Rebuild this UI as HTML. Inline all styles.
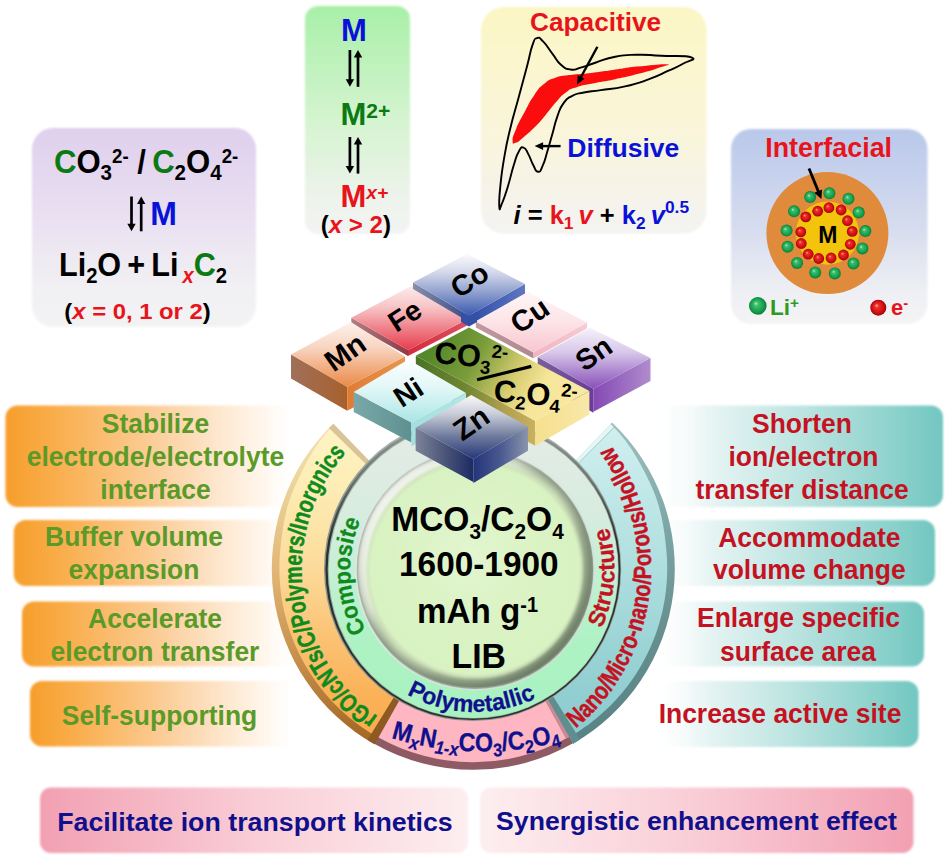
<!DOCTYPE html>
<html><head><meta charset="utf-8"><title>MCO3/C2O4 LIB anodes</title>
<style>
html,body{margin:0;padding:0;background:#fff;}
svg{display:block;}
text{font-family:"Liberation Sans", Arial, Helvetica, sans-serif;font-weight:bold;}
</style></head><body>
<svg width="952" height="865" viewBox="0 0 952 865">
<defs>
<filter id="soft" x="-5%" y="-5%" width="110%" height="110%"><feGaussianBlur stdDeviation="1.1"/></filter>
<marker id="ah" viewBox="0 0 10 10" refX="5" refY="5" markerWidth="4" markerHeight="4" orient="auto-start-reverse"><path d="M0,0 L10,5 L0,10 z" fill="#000"/></marker>
<linearGradient id="gb1" x1="0" y1="0" x2="0" y2="1"><stop offset="0" stop-color="#dfcfec"/><stop offset="0.45" stop-color="#e9e0f2"/><stop offset="0.8" stop-color="#f1f0f3"/><stop offset="1" stop-color="#f3f3f3"/></linearGradient>
<linearGradient id="gb2" x1="0" y1="0" x2="0" y2="1"><stop offset="0" stop-color="#a8f0a8"/><stop offset="0.5" stop-color="#d5f4d0"/><stop offset="0.85" stop-color="#eef3ec"/><stop offset="1" stop-color="#f3f3f3"/></linearGradient>
<linearGradient id="gb3" x1="0" y1="0" x2="0" y2="1"><stop offset="0" stop-color="#fbf6c4"/><stop offset="0.5" stop-color="#faf5d8"/><stop offset="0.85" stop-color="#f5f3ea"/><stop offset="1" stop-color="#f3f3f1"/></linearGradient>
<linearGradient id="gb4" x1="0" y1="0" x2="0" y2="1"><stop offset="0" stop-color="#b9c8ea"/><stop offset="0.5" stop-color="#d6dcef"/><stop offset="0.85" stop-color="#eff0f4"/><stop offset="1" stop-color="#f4f4f4"/></linearGradient>
<radialGradient id="gball" cx="0.5" cy="0.5" r="0.5" fx="0.38" fy="0.35"><stop offset="0" stop-color="#b8f0c8"/><stop offset="0.25" stop-color="#3cc070"/><stop offset="0.8" stop-color="#119a48"/><stop offset="1" stop-color="#0b7a3a"/></radialGradient>
<radialGradient id="rball" cx="0.5" cy="0.5" r="0.5" fx="0.38" fy="0.35"><stop offset="0" stop-color="#ffb0a0"/><stop offset="0.25" stop-color="#f03028"/><stop offset="0.8" stop-color="#c80a10"/><stop offset="1" stop-color="#98060a"/></radialGradient>
<linearGradient id="gl" x1="0" y1="0" x2="1" y2="0"><stop offset="0" stop-color="#f79e2c"/><stop offset="0.15" stop-color="#f9ac48"/><stop offset="0.45" stop-color="#fbc88c"/><stop offset="0.68" stop-color="#fde2c4"/><stop offset="0.88" stop-color="#fff6ec" stop-opacity="0.9"/><stop offset="1" stop-color="#ffffff" stop-opacity="0"/></linearGradient>
<linearGradient id="gr" x1="1" y1="0" x2="0" y2="0"><stop offset="0" stop-color="#72c6c0"/><stop offset="0.12" stop-color="#86cfc9"/><stop offset="0.5" stop-color="#bfe5e2"/><stop offset="0.8" stop-color="#e8f5f4"/><stop offset="1" stop-color="#ffffff" stop-opacity="0"/></linearGradient>
<linearGradient id="gbl" x1="0" y1="0" x2="1" y2="0"><stop offset="0" stop-color="#f2a0b2"/><stop offset="0.5" stop-color="#f9cdd6"/><stop offset="1" stop-color="#fdeef0"/></linearGradient>
<linearGradient id="gbr" x1="1" y1="0" x2="0" y2="0"><stop offset="0" stop-color="#f2a0b2"/><stop offset="0.5" stop-color="#f9cdd6"/><stop offset="1" stop-color="#fdeef0"/></linearGradient>
<linearGradient id="oe" x1="0" y1="420" x2="0" y2="770" gradientUnits="userSpaceOnUse"><stop offset="0" stop-color="#f3e3b4"/><stop offset="0.18" stop-color="#ecd49c"/><stop offset="0.42" stop-color="#e2b878"/><stop offset="0.7" stop-color="#c48c48"/><stop offset="0.88" stop-color="#a86c2a"/><stop offset="1" stop-color="#9a6024"/></linearGradient>
<linearGradient id="of" x1="0" y1="420" x2="0" y2="762" gradientUnits="userSpaceOnUse"><stop offset="0" stop-color="#fef6c6"/><stop offset="0.2" stop-color="#fdecb4"/><stop offset="0.42" stop-color="#fcdc9c"/><stop offset="0.62" stop-color="#fbc476"/><stop offset="0.8" stop-color="#fbb258"/><stop offset="1" stop-color="#faa646"/></linearGradient>
<linearGradient id="ce" x1="0" y1="420" x2="0" y2="770" gradientUnits="userSpaceOnUse"><stop offset="0" stop-color="#a0c0c0"/><stop offset="0.3" stop-color="#7ea6a6"/><stop offset="0.6" stop-color="#678f90"/><stop offset="1" stop-color="#557f82"/></linearGradient>
<linearGradient id="cf" x1="0" y1="420" x2="0" y2="762" gradientUnits="userSpaceOnUse"><stop offset="0" stop-color="#d2f0f0"/><stop offset="0.35" stop-color="#b6e2e2"/><stop offset="0.7" stop-color="#98d2d4"/><stop offset="1" stop-color="#86c8cc"/></linearGradient>
<linearGradient id="mr" x1="0" y1="420" x2="0" y2="718" gradientUnits="userSpaceOnUse"><stop offset="0" stop-color="#e6ece6"/><stop offset="0.3" stop-color="#d8ece0"/><stop offset="0.55" stop-color="#c0f0d2"/><stop offset="0.75" stop-color="#aef2c4"/><stop offset="1" stop-color="#a8f2c0"/></linearGradient>
<linearGradient id="mb" x1="0" y1="418" x2="0" y2="720" gradientUnits="userSpaceOnUse"><stop offset="0" stop-color="#98a29c"/><stop offset="0.2" stop-color="#6a746e"/><stop offset="0.4" stop-color="#2a322e"/><stop offset="1" stop-color="#2a322e"/></linearGradient>
<linearGradient id="mb0" x1="0" y1="418" x2="0" y2="720" gradientUnits="userSpaceOnUse"><stop offset="0" stop-color="#b4bcb8"/><stop offset="0.3" stop-color="#8a948e"/><stop offset="1" stop-color="#8a948e"/></linearGradient>
<radialGradient id="idb" cx="475.0" cy="569.5" r="118.4" gradientUnits="userSpaceOnUse"><stop offset="0" stop-color="#dbf3c4"/><stop offset="0.88" stop-color="#d9f2c2"/><stop offset="0.93" stop-color="#c6d8b4"/><stop offset="0.97" stop-color="#a2b296"/><stop offset="0.99" stop-color="#8e9c88"/><stop offset="1" stop-color="#a8b4a4"/></radialGradient>
<linearGradient id="bvd" x1="395" y1="489" x2="555" y2="650" gradientUnits="userSpaceOnUse"><stop offset="0" stop-color="#ffffff" stop-opacity="0.8"/><stop offset="0.3" stop-color="#ffffff" stop-opacity="0.4"/><stop offset="0.5" stop-color="#808a78" stop-opacity="0.0"/><stop offset="0.72" stop-color="#4e5e48" stop-opacity="0.32"/><stop offset="1" stop-color="#3e4e3a" stop-opacity="0.5"/></linearGradient>
<filter id="b2" x="-10%" y="-10%" width="120%" height="120%"><feGaussianBlur stdDeviation="1.5"/></filter>
<radialGradient id="idh" cx="470.0" cy="554.5" r="100" gradientUnits="userSpaceOnUse"><stop offset="0" stop-color="#e8f8d8" stop-opacity="0.6"/><stop offset="0.7" stop-color="#dff4ca" stop-opacity="0.25"/><stop offset="1" stop-color="#d9f2c2" stop-opacity="0"/></radialGradient>
<path id="pc1" d="M470.86,694.23 A124.80,124.80 0 0 1 457.42,445.95"/>
<path id="pc2" d="M478.29,708.96 A139.50,139.50 0 0 0 495.98,431.59"/>
<path id="pc3" d="M332.94,577.82 A142.30,142.30 0 0 0 616.34,585.98"/>
<path id="pc4" d="M485.50,748.20 A178.00,178.00 0 0 1 442.90,396.13"/>
<path id="pc5" d="M524.22,759.63 A207.70,207.70 0 0 0 568.69,402.64"/>
<path id="pc6" d="M321.22,706.87 A310.50,310.50 0 0 0 631.66,712.83"/>
<linearGradient id="ttFe" x1="0" y1="284.5" x2="0" y2="350" gradientUnits="userSpaceOnUse"><stop offset="0" stop-color="#fdeeee"/><stop offset="0.35" stop-color="#f7c4c6"/><stop offset="0.7" stop-color="#ee7a84"/><stop offset="1" stop-color="#e83c4c"/></linearGradient>
<linearGradient id="tlFe" x1="351.3" y1="0" x2="408" y2="0" gradientUnits="userSpaceOnUse"><stop offset="0" stop-color="#b08084"/><stop offset="1" stop-color="#8e3a44"/></linearGradient>
<linearGradient id="trFe" x1="408" y1="0" x2="470" y2="0" gradientUnits="userSpaceOnUse"><stop offset="0" stop-color="#d02c3c"/><stop offset="1" stop-color="#e05060"/></linearGradient>
<linearGradient id="ttCu" x1="0" y1="291.5" x2="0" y2="352.5" gradientUnits="userSpaceOnUse"><stop offset="0" stop-color="#fff6f7"/><stop offset="0.5" stop-color="#fde4e8"/><stop offset="1" stop-color="#f7c6cf"/></linearGradient>
<linearGradient id="tlCu" x1="475.8" y1="0" x2="533.5" y2="0" gradientUnits="userSpaceOnUse"><stop offset="0" stop-color="#c09aa0"/><stop offset="1" stop-color="#b08890"/></linearGradient>
<linearGradient id="trCu" x1="533.5" y1="0" x2="587" y2="0" gradientUnits="userSpaceOnUse"><stop offset="0" stop-color="#f0b4be"/><stop offset="1" stop-color="#f6ccd4"/></linearGradient>
<linearGradient id="ttCo" x1="0" y1="254" x2="0" y2="315.5" gradientUnits="userSpaceOnUse"><stop offset="0" stop-color="#fbfbfd"/><stop offset="0.3" stop-color="#d4d8ea"/><stop offset="0.65" stop-color="#8a9ccc"/><stop offset="1" stop-color="#3a58b0"/></linearGradient>
<linearGradient id="tlCo" x1="413" y1="0" x2="469" y2="0" gradientUnits="userSpaceOnUse"><stop offset="0" stop-color="#8690a8"/><stop offset="1" stop-color="#3a4a88"/></linearGradient>
<linearGradient id="trCo" x1="469" y1="0" x2="525" y2="0" gradientUnits="userSpaceOnUse"><stop offset="0" stop-color="#2c4aa8"/><stop offset="1" stop-color="#6078c0"/></linearGradient>
<linearGradient id="ttMn" x1="0" y1="322" x2="0" y2="386.8" gradientUnits="userSpaceOnUse"><stop offset="0" stop-color="#fdf2ec"/><stop offset="0.4" stop-color="#f8d4c0"/><stop offset="0.75" stop-color="#f0a878"/><stop offset="1" stop-color="#ea8a48"/></linearGradient>
<linearGradient id="tlMn" x1="291" y1="0" x2="347.2" y2="0" gradientUnits="userSpaceOnUse"><stop offset="0" stop-color="#a0705a"/><stop offset="1" stop-color="#a8602c"/></linearGradient>
<linearGradient id="trMn" x1="347.2" y1="0" x2="405" y2="0" gradientUnits="userSpaceOnUse"><stop offset="0" stop-color="#e07c34"/><stop offset="1" stop-color="#e8944c"/></linearGradient>
<linearGradient id="ttSn" x1="0" y1="327.7" x2="0" y2="388.7" gradientUnits="userSpaceOnUse"><stop offset="0" stop-color="#f6f2fa"/><stop offset="0.4" stop-color="#d8c8ea"/><stop offset="0.75" stop-color="#a880cc"/><stop offset="1" stop-color="#8a50b8"/></linearGradient>
<linearGradient id="tlSn" x1="537.7" y1="0" x2="593.4" y2="0" gradientUnits="userSpaceOnUse"><stop offset="0" stop-color="#78609a"/><stop offset="1" stop-color="#683c98"/></linearGradient>
<linearGradient id="trSn" x1="593.4" y1="0" x2="650.5" y2="0" gradientUnits="userSpaceOnUse"><stop offset="0" stop-color="#8448b4"/><stop offset="1" stop-color="#b08ccc"/></linearGradient>
<linearGradient id="ttC" gradientUnits="userSpaceOnUse" x1="440" y1="335" x2="565" y2="405"><stop offset="0" stop-color="#55882a"/><stop offset="0.3" stop-color="#7a9c3a"/><stop offset="0.6" stop-color="#d6cc70"/><stop offset="0.8" stop-color="#f6e69a"/><stop offset="1" stop-color="#f8e8a0"/></linearGradient>
<linearGradient id="tlC" x1="416" y1="0" x2="534.5" y2="0" gradientUnits="userSpaceOnUse"><stop offset="0" stop-color="#4a7424"/><stop offset="0.4" stop-color="#6e8430"/><stop offset="0.75" stop-color="#b0a050"/><stop offset="1" stop-color="#c8b060"/></linearGradient>
<linearGradient id="trC" x1="534.5" y1="0" x2="589" y2="0" gradientUnits="userSpaceOnUse"><stop offset="0" stop-color="#f6e08e"/><stop offset="1" stop-color="#f8e8a8"/></linearGradient>
<linearGradient id="ttNi" x1="0" y1="359.5" x2="0" y2="422.5" gradientUnits="userSpaceOnUse"><stop offset="0" stop-color="#fbfefe"/><stop offset="0.4" stop-color="#e6f8f8"/><stop offset="0.75" stop-color="#c4eeee"/><stop offset="1" stop-color="#a8e4e4"/></linearGradient>
<linearGradient id="tlNi" x1="353.7" y1="0" x2="411.4" y2="0" gradientUnits="userSpaceOnUse"><stop offset="0" stop-color="#7aa8a8"/><stop offset="1" stop-color="#5f9090"/></linearGradient>
<linearGradient id="trNi" x1="411.4" y1="0" x2="466" y2="0" gradientUnits="userSpaceOnUse"><stop offset="0" stop-color="#a4dede"/><stop offset="1" stop-color="#b4e6e6"/></linearGradient>
<linearGradient id="ttZn" x1="0" y1="395" x2="0" y2="459" gradientUnits="userSpaceOnUse"><stop offset="0" stop-color="#fafafc"/><stop offset="0.3" stop-color="#c8ccd8"/><stop offset="0.65" stop-color="#6e7a9c"/><stop offset="1" stop-color="#26367a"/></linearGradient>
<linearGradient id="tlZn" x1="415.6" y1="0" x2="473.4" y2="0" gradientUnits="userSpaceOnUse"><stop offset="0" stop-color="#7c8498"/><stop offset="0.5" stop-color="#4c5678"/><stop offset="1" stop-color="#1c2a64"/></linearGradient>
<linearGradient id="trZn" x1="473.4" y1="0" x2="528" y2="0" gradientUnits="userSpaceOnUse"><stop offset="0" stop-color="#24347a"/><stop offset="0.5" stop-color="#4a5a90"/><stop offset="1" stop-color="#8a94ac"/></linearGradient>
</defs>
<rect x="32.0" y="128.0" width="224.0" height="199.0" rx="21.0" fill="url(#gb1)" filter="url(#soft)"/>
<text transform="translate(146.10,172.50) scale(0.915,1)" font-size="34.00" fill="#000" text-anchor="middle"><tspan fill="#0b7a12">C</tspan><tspan fill="#000">O</tspan><tspan dy="7.14" font-size="22.44" fill="#000">3</tspan><tspan dy="-16.46" font-size="20.40" fill="#000">2-</tspan><tspan dy="9.32" fill="#000"> / </tspan><tspan fill="#0b7a12">C</tspan><tspan dy="7.14" font-size="22.44" fill="#000">2</tspan><tspan dy="-7.14" fill="#000">O</tspan><tspan dy="7.14" font-size="22.44" fill="#000">4</tspan><tspan dy="-16.46" font-size="20.40" fill="#000">2-</tspan></text>
<path d="M131.5,196.5 V224.8" stroke="#000" stroke-width="2.7" fill="none"/>
<path d="M131.5,231.3 l-4.2,-7.5 h8.4 z" fill="#000"/>
<path d="M141.2,231.3 V203.0" stroke="#000" stroke-width="2.7" fill="none"/>
<path d="M141.2,196.5 l-4.2,7.5 h8.4 z" fill="#000"/>
<text transform="translate(150.30,225.00) scale(0.970,1)" font-size="33.00" fill="#0a12d8" text-anchor="start">M</text>
<text transform="translate(143.00,276.00) scale(0.900,1)" font-size="34.00" fill="#000" text-anchor="middle"><tspan fill="#000">Li</tspan><tspan dy="7.14" font-size="22.44" fill="#000">2</tspan><tspan dy="-7.14" fill="#000">O + Li</tspan><tspan dy="7.14" font-size="22.44" fill="#e8141c" font-style="italic"> x</tspan><tspan dy="-7.14" fill="#0b7a12">C</tspan><tspan dy="7.14" font-size="22.44" fill="#000">2</tspan></text>
<text transform="translate(137.50,318.50) scale(1.060,1)" font-size="22.50" fill="#e8141c" text-anchor="middle"><tspan fill="#000">(</tspan><tspan fill="#e8141c" font-style="italic">x</tspan><tspan fill="#e8141c"> = 0, 1 or 2</tspan><tspan fill="#000">)</tspan></text>
<rect x="305.0" y="6.0" width="105.0" height="228.0" rx="13.0" fill="url(#gb2)" filter="url(#soft)"/>
<text transform="translate(353.90,40.50)" font-size="31.00" fill="#0a12d8" text-anchor="middle">M</text>
<path d="M349.9,50.0 V80.3" stroke="#000" stroke-width="2.7" fill="none"/>
<path d="M349.9,86.8 l-4.2,-7.5 h8.4 z" fill="#000"/>
<path d="M358.0,86.8 V56.5" stroke="#000" stroke-width="2.7" fill="none"/>
<path d="M358.0,50.0 l-4.2,7.5 h8.4 z" fill="#000"/>
<text transform="translate(340.50,125.00)" font-size="31.00" fill="#0b7a12" text-anchor="start"><tspan fill="#0b7a12">M</tspan><tspan dy="-6.82" font-size="21.08" fill="#0b7a12">2+</tspan></text>
<path d="M349.9,137.0 V167.1" stroke="#000" stroke-width="2.7" fill="none"/>
<path d="M349.9,173.6 l-4.2,-7.5 h8.4 z" fill="#000"/>
<path d="M358.0,173.6 V143.5" stroke="#000" stroke-width="2.7" fill="none"/>
<path d="M358.0,137.0 l-4.2,7.5 h8.4 z" fill="#000"/>
<text transform="translate(340.50,207.40)" font-size="31.00" fill="#e8141c" text-anchor="start"><tspan fill="#e8141c">M</tspan><tspan dy="-8.06" font-size="19.22" fill="#e8141c" font-style="italic">x+</tspan></text>
<text transform="translate(355.80,232.90) scale(1.025,1)" font-size="23.50" fill="#e8141c" text-anchor="middle"><tspan fill="#000">(</tspan><tspan fill="#e8141c" font-style="italic">x</tspan><tspan fill="#e8141c"> &gt; 2</tspan><tspan fill="#000">)</tspan></text>
<rect x="481.0" y="7.0" width="225.5" height="226.5" rx="23.0" fill="url(#gb3)" filter="url(#soft)"/>
<path d="M512.6,140.8 C512.6,136.7 512.6,137.4 516.2,128.7 C519.9,120.0 519.3,122.0 524.7,111.8 C530.1,101.7 528.6,103.2 534.4,94.9 C540.2,86.6 537.9,89.1 544.0,84.0 C550.2,79.0 547.3,80.7 554.9,78.0 C562.5,75.3 559.2,76.5 569.4,75.1 C579.5,73.6 575.7,74.7 588.7,73.2 C601.8,71.6 598.4,72.0 612.9,70.0 C627.4,68.1 621.1,68.4 637.0,66.6 C653.0,64.9 659.5,63.9 666.0,64.2 C672.6,64.6 666.8,65.0 658.8,67.8 C650.8,70.7 652.5,70.2 639.5,73.6 C626.4,77.0 629.1,76.3 615.3,79.2 C601.5,82.1 605.2,80.9 593.6,83.3 C582.0,85.7 585.0,84.4 576.6,87.2 C568.3,89.9 571.9,88.0 565.8,92.5 C559.6,97.0 562.3,95.3 556.1,102.1 C549.9,109.0 551.8,107.8 545.2,115.4 C538.7,123.0 540.9,121.0 534.4,127.5 C527.8,134.0 528.9,132.7 523.5,137.2 C518.1,141.7 519.5,141.4 516.2,142.5 C513.0,143.6 512.6,144.9 512.6,140.8Z" fill="#fb0d0d"/>
<path d="M499.3,206.5 C498.9,201.6 498.9,200.5 500.3,186.7 C501.7,172.9 501.4,174.1 504.2,157.7 C507.0,141.3 506.1,145.8 510.2,128.7 C514.3,111.6 513.9,115.1 518.7,97.3 C523.4,79.5 523.2,80.6 527.1,65.9 C531.0,51.2 529.6,53.2 532.4,45.4 C535.2,37.5 533.9,39.1 537.0,38.1 C540.1,37.1 538.9,37.3 543.3,41.7 C547.7,46.2 547.5,47.3 552.5,53.8 C557.5,60.3 555.8,60.2 560.9,64.7 C566.1,69.1 564.8,68.8 570.6,69.5 C576.4,70.3 574.3,69.3 581.5,67.4 C588.7,65.4 586.4,65.5 596.0,62.5 C605.6,59.5 603.7,58.9 615.3,56.7 C626.9,54.5 624.0,55.1 637.0,54.8 C650.0,54.5 645.8,55.0 661.2,55.8 C676.6,56.5 685.4,55.1 691.4,57.4 C697.4,59.8 689.0,60.2 682.5,64.0 C676.0,67.7 677.9,66.4 668.5,70.7 C659.0,75.0 661.4,74.7 649.1,79.2 C636.8,83.6 638.7,83.4 625.0,86.4 C611.3,89.5 612.4,88.4 600.8,90.1 C589.2,91.8 592.1,90.8 583.9,92.5 C575.7,94.2 577.6,93.0 571.8,96.1 C566.0,99.2 567.5,97.5 563.4,103.4 C559.2,109.2 560.4,108.1 557.3,116.6 C554.2,125.2 555.2,124.0 552.5,133.6 C549.7,143.1 550.4,141.4 547.6,150.5 C544.9,159.5 545.6,159.4 542.8,165.4 C540.1,171.5 540.7,171.9 538.0,171.7 C535.2,171.6 535.9,170.0 533.2,165.0 C530.4,160.0 531.1,159.0 528.3,154.1 C525.6,149.2 526.2,148.3 523.5,147.6 C520.8,146.9 521.4,146.7 518.7,151.7 C515.9,156.6 516.9,155.0 513.8,165.0 C510.7,174.9 511.2,175.6 507.8,186.7 C504.4,197.8 504.1,198.5 501.7,204.1 C499.3,209.7 499.7,211.4 499.3,206.5Z" fill="none" stroke="#000" stroke-width="1.9" stroke-linejoin="round"/>
<text transform="translate(595.60,30.80) scale(0.985,1)" font-size="26.60" fill="#e8141c" text-anchor="middle">Capacitive</text>
<text transform="translate(567.30,157.00) scale(1.005,1)" font-size="26.40" fill="#0a12d8" text-anchor="start">Diffusive</text>
<path d="M597.4,46.7 L580.6,77.8" stroke="#000" stroke-width="2.4"/>
<path d="M577.0,84.4 L577.7,75.1 L584.4,78.7 z" fill="#000"/>
<path d="M560.6,146.1 L542.1,146.1" stroke="#000" stroke-width="2.4"/>
<path d="M534.6,146.1 L543.1,142.3 L543.1,149.9 z" fill="#000"/>
<text transform="translate(513.50,223.50)" font-size="25.50" fill="#000" text-anchor="start"><tspan fill="#000" font-style="italic">i</tspan><tspan fill="#000"> = </tspan><tspan fill="#e8141c">k</tspan><tspan dy="5.61" font-size="17.34" fill="#e8141c">1</tspan><tspan dy="-5.61" fill="#e8141c" font-style="italic"> v</tspan><tspan fill="#000"> + </tspan><tspan fill="#0a12d8">k</tspan><tspan dy="5.61" font-size="17.34" fill="#0a12d8">2</tspan><tspan dy="-5.61" fill="#0a12d8" font-style="italic"> v</tspan><tspan dy="-10.71" font-size="17.34" fill="#0a12d8">0.5</tspan></text>
<rect x="731.0" y="129.0" width="196.5" height="195.0" rx="20.0" fill="url(#gb4)" filter="url(#soft)"/>
<text transform="translate(828.60,157.00) scale(0.995,1)" font-size="27.00" fill="#e8141c" text-anchor="middle">Interfacial</text>
<circle cx="827.4" cy="233.1" r="61" fill="#e08a3c"/>
<circle cx="827.4" cy="233.1" r="31.6" fill="#f2c40c"/>
<circle cx="810.2" cy="197.1" r="6" fill="url(#gball)"/>
<circle cx="829.4" cy="193.3" r="6" fill="url(#gball)"/>
<circle cx="848.5" cy="198.8" r="6" fill="url(#gball)"/>
<circle cx="858.7" cy="212.5" r="6" fill="url(#gball)"/>
<circle cx="865.4" cy="231.1" r="6" fill="url(#gball)"/>
<circle cx="862.4" cy="248.5" r="6" fill="url(#gball)"/>
<circle cx="853.5" cy="263.4" r="6" fill="url(#gball)"/>
<circle cx="834.8" cy="273.4" r="6" fill="url(#gball)"/>
<circle cx="815.2" cy="272.4" r="6" fill="url(#gball)"/>
<circle cx="797.1" cy="262.9" r="6" fill="url(#gball)"/>
<circle cx="787.6" cy="246.8" r="6" fill="url(#gball)"/>
<circle cx="786.6" cy="230.6" r="6" fill="url(#gball)"/>
<circle cx="794.1" cy="211.2" r="6" fill="url(#gball)"/>
<circle cx="817.7" cy="211.2" r="5.4" fill="url(#rball)"/>
<circle cx="828.9" cy="207.7" r="5.4" fill="url(#rball)"/>
<circle cx="841.1" cy="210.0" r="5.4" fill="url(#rball)"/>
<circle cx="847.5" cy="220.7" r="5.4" fill="url(#rball)"/>
<circle cx="852.2" cy="231.4" r="5.4" fill="url(#rball)"/>
<circle cx="850.3" cy="244.3" r="5.4" fill="url(#rball)"/>
<circle cx="843.5" cy="255.0" r="5.4" fill="url(#rball)"/>
<circle cx="831.1" cy="258.0" r="5.4" fill="url(#rball)"/>
<circle cx="818.7" cy="258.5" r="5.4" fill="url(#rball)"/>
<circle cx="808.2" cy="254.2" r="5.4" fill="url(#rball)"/>
<circle cx="801.3" cy="243.5" r="5.4" fill="url(#rball)"/>
<circle cx="800.8" cy="231.9" r="5.4" fill="url(#rball)"/>
<circle cx="805.8" cy="216.9" r="5.4" fill="url(#rball)"/>
<text transform="translate(827.90,242.80)" font-size="23.00" fill="#000" text-anchor="middle">M</text>
<path d="M809.0,168.5 L818.6,192.1" stroke="#000" stroke-width="2.8"/>
<path d="M821.4,199.0 L814.3,192.8 L822.1,189.6 z" fill="#000"/>
<circle cx="757.8" cy="305.9" r="8.8" fill="url(#gball)"/>
<text transform="translate(770.00,314.60)" font-size="22.50" fill="#2e9a1e" text-anchor="start"><tspan>Li</tspan><tspan dy="-6.75" font-size="15.30">+</tspan></text>
<circle cx="878.3" cy="307.7" r="8" fill="url(#rball)"/>
<text transform="translate(891.00,314.60)" font-size="22.00" fill="#e8141c" text-anchor="start"><tspan>e</tspan><tspan dy="-6.60" font-size="14.96">-</tspan></text>
<rect x="5.5" y="405.5" width="294.5" height="101.5" rx="12.0" fill="url(#gl)" filter="url(#soft)"/>
<rect x="13.7" y="520.0" width="286.3" height="66.0" rx="12.0" fill="url(#gl)" filter="url(#soft)"/>
<rect x="22.0" y="601.5" width="278.0" height="65.0" rx="12.0" fill="url(#gl)" filter="url(#soft)"/>
<rect x="30.0" y="681.0" width="270.0" height="65.5" rx="12.0" fill="url(#gl)" filter="url(#soft)"/>
<rect x="650.0" y="405.5" width="293.0" height="101.5" rx="12.0" fill="url(#gr)" filter="url(#soft)"/>
<rect x="650.0" y="520.0" width="285.0" height="66.0" rx="12.0" fill="url(#gr)" filter="url(#soft)"/>
<rect x="650.0" y="601.5" width="274.0" height="65.0" rx="12.0" fill="url(#gr)" filter="url(#soft)"/>
<rect x="650.0" y="681.0" width="268.5" height="66.0" rx="12.0" fill="url(#gr)" filter="url(#soft)"/>
<rect x="40.0" y="787.5" width="428.0" height="65.5" rx="11.0" fill="url(#gbl)" filter="url(#soft)"/>
<rect x="480.0" y="787.5" width="433.5" height="65.5" rx="11.0" fill="url(#gbr)" filter="url(#soft)"/>
<text transform="translate(155.50,433.10) scale(0.970,1)" font-size="27.30" fill="#5a9a28" text-anchor="middle">Stabilize</text>
<text transform="translate(155.50,465.60) scale(0.970,1)" font-size="27.30" fill="#5a9a28" text-anchor="middle">electrode/electrolyte</text>
<text transform="translate(155.50,498.60) scale(0.970,1)" font-size="27.30" fill="#5a9a28" text-anchor="middle">interface</text>
<text transform="translate(134.00,546.30) scale(0.970,1)" font-size="27.30" fill="#5a9a28" text-anchor="middle">Buffer volume</text>
<text transform="translate(134.00,578.80) scale(0.970,1)" font-size="27.30" fill="#5a9a28" text-anchor="middle">expansion</text>
<text transform="translate(155.00,627.60) scale(0.970,1)" font-size="27.30" fill="#5a9a28" text-anchor="middle">Accelerate</text>
<text transform="translate(155.00,660.60) scale(0.970,1)" font-size="27.30" fill="#5a9a28" text-anchor="middle">electron transfer</text>
<text transform="translate(159.50,724.60) scale(0.970,1)" font-size="27.30" fill="#5a9a28" text-anchor="middle">Self-supporting</text>
<text transform="translate(802.00,433.10) scale(0.970,1)" font-size="27.30" fill="#c41222" text-anchor="middle">Shorten</text>
<text transform="translate(803.50,466.10) scale(0.970,1)" font-size="27.30" fill="#c41222" text-anchor="middle">ion/electron</text>
<text transform="translate(802.00,498.60) scale(0.970,1)" font-size="27.30" fill="#c41222" text-anchor="middle">transfer distance</text>
<text transform="translate(809.30,546.60) scale(0.970,1)" font-size="27.30" fill="#c41222" text-anchor="middle">Accommodate</text>
<text transform="translate(809.30,578.80) scale(0.970,1)" font-size="27.30" fill="#c41222" text-anchor="middle">volume change</text>
<text transform="translate(798.50,626.80) scale(0.970,1)" font-size="27.30" fill="#c41222" text-anchor="middle">Enlarge specific</text>
<text transform="translate(798.00,660.60) scale(0.970,1)" font-size="27.30" fill="#c41222" text-anchor="middle">surface area</text>
<text transform="translate(780.00,723.00) scale(0.970,1)" font-size="27.30" fill="#c41222" text-anchor="middle">Increase active site</text>
<text transform="translate(255.00,831.20) scale(1.010,1)" font-size="26.50" fill="#10108c" text-anchor="middle">Facilitate ion transport kinetics</text>
<text transform="translate(696.50,829.80) scale(1.005,1)" font-size="26.50" fill="#10108c" text-anchor="middle">Synergistic enhancement effect</text>
<path d="M374.69,744.32 A201.50,201.50 0 0 1 333.33,423.65 L373.27,465.02 A144.00,144.00 0 0 0 402.83,694.18 Z" fill="url(#oe)"/>
<path d="M612.00,422.44 A201.50,201.50 0 0 1 573.13,743.63 L544.65,693.68 A144.00,144.00 0 0 0 572.42,464.15 Z" fill="url(#ce)"/>
<path d="M572.99,743.37 A201.20,201.20 0 0 1 374.22,743.72 L402.39,693.93 A144.00,144.00 0 0 0 544.65,693.68 Z" fill="#8e5a64"/>
<path d="M328.84,428.12 A201.50,201.50 0 0 1 333.33,423.65 L373.27,465.02 A144.00,144.00 0 0 0 370.06,468.21 Z" fill="#d9c49a"/>
<path d="M374.69,744.32 A201.50,201.50 0 0 1 367.42,740.04 L397.63,691.12 A144.00,144.00 0 0 0 402.83,694.18 Z" fill="#8f5a22"/>
<path d="M580.08,739.48 A201.50,201.50 0 0 1 573.13,743.63 L544.65,693.68 A144.00,144.00 0 0 0 549.61,690.72 Z" fill="#5f8e90"/>
<path d="M569.32,736.94 A193.80,193.80 0 0 1 566.07,738.75 L542.23,695.03 A144.00,144.00 0 0 0 544.65,693.68 Z" fill="#c98a94"/>
<path d="M371.46,733.49 L368.60,731.68 L365.77,729.83 L362.97,727.93 L360.21,725.98 L357.48,723.98 L354.79,721.94 L352.13,719.85 L349.51,717.71 L346.92,715.53 L344.38,713.30 L341.87,711.03 L339.41,708.71 L336.98,706.35 L334.60,703.95 L332.26,701.51 L329.96,699.03 L327.71,696.51 L325.49,693.95 L323.33,691.35 L321.21,688.71 L319.14,686.04 L317.11,683.33 L315.13,680.59 L313.20,677.81 L311.32,675.00 L309.49,672.16 L307.71,669.28 L305.97,666.38 L304.29,663.44 L302.66,660.48 L301.08,657.49 L299.56,654.47 L298.08,651.42 L296.66,648.35 L295.30,645.26 L293.98,642.14 L292.72,639.00 L291.52,635.84 L290.37,632.66 L289.28,629.46 L288.24,626.24 L287.26,623.00 L286.33,619.75 L285.46,616.48 L284.65,613.19 L283.90,609.90 L283.20,606.59 L282.56,603.26 L281.98,599.93 L281.46,596.59 L281.00,593.23 L280.60,589.87 L280.25,586.51 L279.96,583.14 L279.74,579.76 L279.57,576.38 L279.46,573.00 L279.41,569.62 L279.42,566.23 L279.49,562.85 L279.62,559.47 L279.80,556.09 L280.05,552.71 L280.35,549.34 L280.67,545.97 L281.02,542.60 L281.40,539.24 L281.81,535.87 L282.27,532.50 L282.76,529.14 L283.31,525.78 L283.90,522.43 L284.55,519.08 L285.25,515.74 L286.02,512.41 L286.85,509.10 L287.75,505.80 L288.73,502.51 L289.77,499.25 L290.90,496.01 L292.11,492.81 L293.40,489.63 L294.78,486.49 L296.23,483.38 L297.69,480.28 L299.16,477.17 L300.65,474.08 L302.17,470.99 L303.72,467.91 L305.30,464.84 L306.93,461.79 L308.60,458.76 L310.33,455.75 L312.11,452.77 L313.95,449.82 L315.85,446.91 L317.82,444.04 L319.86,441.21 L321.97,438.44 L324.16,435.73 L326.43,433.08 L328.78,430.50 L329.99,429.24 L370.06,468.21 L368.33,470.03 L366.62,471.87 L364.95,473.75 L363.31,475.65 L361.71,477.59 L360.14,479.55 L358.60,481.54 L357.10,483.55 L355.63,485.59 L354.20,487.66 L352.81,489.75 L351.45,491.87 L350.13,494.00 L348.84,496.17 L347.60,498.35 L346.39,500.55 L345.22,502.78 L344.09,505.02 L343.00,507.29 L341.95,509.57 L340.94,511.87 L339.97,514.19 L339.05,516.53 L338.16,518.88 L337.31,521.24 L336.50,523.62 L335.74,526.02 L335.02,528.43 L334.34,530.84 L333.70,533.28 L333.10,535.72 L332.55,538.17 L332.04,540.63 L331.58,543.10 L331.15,545.58 L330.77,548.06 L330.44,550.55 L330.14,553.05 L329.89,555.55 L329.69,558.05 L329.52,560.56 L329.41,563.07 L329.33,565.58 L329.30,568.10 L329.31,570.61 L329.37,573.12 L329.47,575.63 L329.62,578.14 L329.81,580.65 L330.04,583.15 L330.31,585.65 L330.63,588.14 L331.00,590.63 L331.40,593.11 L331.85,595.58 L332.34,598.05 L332.88,600.50 L333.46,602.95 L334.08,605.38 L334.74,607.81 L335.45,610.22 L336.19,612.62 L336.98,615.01 L337.81,617.38 L338.69,619.74 L339.60,622.08 L340.55,624.40 L341.55,626.71 L342.58,629.00 L343.65,631.27 L344.77,633.53 L345.92,635.76 L347.11,637.97 L348.34,640.16 L349.61,642.33 L350.92,644.48 L352.26,646.61 L353.64,648.71 L355.05,650.78 L356.51,652.83 L357.99,654.86 L359.52,656.86 L361.08,658.83 L362.67,660.78 L364.29,662.69 L365.95,664.58 L367.64,666.44 L369.37,668.27 L371.12,670.07 L372.91,671.84 L374.73,673.57 L376.57,675.28 L378.45,676.95 L380.35,678.59 L382.29,680.19 L384.25,681.76 L386.24,683.30 L388.25,684.80 L390.29,686.27 L392.36,687.70 L394.45,689.09 L396.57,690.45 L397.63,691.12Z" fill="url(#of)"/>
<path d="M614.21,427.69 L616.61,430.21 L618.94,432.79 L621.20,435.43 L623.39,438.13 L625.52,440.87 L627.58,443.67 L629.58,446.50 L631.53,449.37 L633.41,452.27 L635.24,455.21 L637.02,458.17 L638.75,461.16 L640.43,464.16 L642.07,467.19 L643.67,470.24 L645.24,473.29 L646.77,476.36 L648.27,479.45 L649.75,482.54 L651.21,485.64 L652.61,488.76 L653.93,491.93 L655.17,495.12 L656.33,498.34 L657.41,501.59 L658.42,504.86 L659.35,508.15 L660.21,511.45 L661.01,514.77 L661.75,518.10 L662.43,521.44 L663.05,524.79 L663.62,528.15 L664.15,531.50 L664.62,534.86 L665.06,538.23 L665.46,541.59 L665.82,544.96 L666.16,548.33 L666.46,551.70 L666.73,555.07 L666.93,558.45 L667.08,561.83 L667.17,565.22 L667.19,568.60 L667.16,571.98 L667.07,575.37 L666.92,578.75 L666.71,582.12 L666.44,585.50 L666.11,588.87 L665.73,592.23 L665.28,595.58 L664.78,598.93 L664.22,602.26 L663.59,605.59 L662.92,608.90 L662.18,612.21 L661.39,615.50 L660.53,618.77 L659.63,622.03 L658.66,625.27 L657.64,628.50 L656.56,631.70 L655.43,634.89 L654.24,638.06 L653.00,641.20 L651.70,644.33 L650.35,647.43 L648.95,650.51 L647.49,653.56 L645.98,656.58 L644.42,659.58 L642.80,662.56 L641.14,665.50 L639.42,668.41 L637.65,671.30 L635.83,674.15 L633.97,676.97 L632.05,679.76 L630.09,682.51 L628.08,685.23 L626.02,687.92 L623.91,690.56 L621.76,693.17 L619.56,695.74 L617.32,698.28 L615.04,700.77 L612.71,703.22 L610.34,705.64 L607.92,708.01 L605.47,710.34 L602.98,712.62 L600.44,714.86 L597.87,717.06 L595.26,719.21 L592.62,721.32 L589.93,723.38 L587.21,725.39 L584.46,727.35 L581.67,729.27 L578.85,731.13 L576.00,732.95 L549.61,690.72 L551.73,689.37 L553.82,687.98 L555.90,686.56 L557.94,685.10 L559.96,683.60 L561.96,682.07 L563.92,680.51 L565.86,678.91 L567.77,677.28 L569.65,675.61 L571.51,673.91 L573.33,672.18 L575.12,670.42 L576.88,668.63 L578.61,666.81 L580.31,664.95 L581.98,663.07 L583.61,661.16 L585.21,659.22 L586.77,657.26 L588.30,655.26 L589.80,653.24 L591.26,651.20 L592.68,649.12 L594.07,647.03 L595.42,644.91 L596.73,642.77 L598.01,640.60 L599.25,638.41 L600.44,636.20 L601.60,633.97 L602.73,631.73 L603.81,629.46 L604.85,627.17 L605.85,624.87 L606.81,622.54 L607.74,620.20 L608.62,617.85 L609.45,615.48 L610.25,613.10 L611.01,610.70 L611.72,608.29 L612.39,605.87 L613.02,603.44 L613.61,600.99 L614.15,598.54 L614.65,596.08 L615.11,593.61 L615.53,591.13 L615.90,588.64 L616.23,586.15 L616.51,583.65 L616.75,581.15 L616.95,578.64 L617.10,576.14 L617.21,573.63 L617.28,571.11 L617.30,568.60 L617.28,566.09 L617.21,563.57 L617.10,561.06 L616.95,558.56 L616.75,556.05 L616.51,553.55 L616.23,551.05 L615.90,548.56 L615.53,546.07 L615.11,543.59 L614.65,541.12 L614.15,538.66 L613.61,536.21 L613.02,533.76 L612.39,531.33 L611.72,528.91 L611.01,526.50 L610.25,524.10 L609.45,521.72 L608.62,519.35 L607.74,517.00 L606.81,514.66 L605.85,512.33 L604.85,510.03 L603.81,507.74 L602.73,505.47 L601.60,503.23 L600.44,501.00 L599.25,498.79 L598.01,496.60 L596.73,494.43 L595.42,492.29 L594.07,490.17 L592.68,488.08 L591.26,486.00 L589.80,483.96 L588.30,481.94 L586.77,479.94 L585.21,477.98 L583.61,476.04 L581.98,474.13 L580.31,472.25 L578.61,470.39 L576.88,468.57 L575.12,466.78Z" fill="url(#cf)"/>
<path d="M610.49,424.03 A199.30,199.30 0 0 1 613.73,427.18 L574.77,466.42 A144.00,144.00 0 0 0 572.42,464.15 Z" fill="#e4f6f6"/>
<path d="M565.97,738.58 A193.60,193.60 0 0 1 378.56,737.43 L402.83,694.18 A144.00,144.00 0 0 0 542.23,695.03 Z" fill="#fdb6c2"/>
<ellipse cx="472.6" cy="569.0" rx="148.6" ry="152.1" fill="url(#mb0)"/>
<ellipse cx="472.9" cy="569.4" rx="147.5" ry="150.7" fill="url(#mb)"/>
<ellipse cx="473.2" cy="569.8" rx="145.5" ry="148.7" fill="#a2b0a8"/>
<ellipse cx="473.4" cy="570" rx="144.6" ry="147.9" fill="url(#mr)"/>
<ellipse cx="475.0" cy="569.5" rx="120" ry="121.2" fill="#dfe6e2" opacity="0.8"/>
<ellipse cx="475.0" cy="569.5" rx="118.4" ry="119.4" fill="url(#idb)"/>
<ellipse cx="475.0" cy="569.5" rx="112.8" ry="113.8" fill="none" stroke="url(#bvd)" stroke-width="9" filter="url(#b2)"/>
<circle cx="470.0" cy="554.5" r="100" fill="url(#idh)"/>
<text transform="translate(477.50,531.40) scale(0.945,1)" font-size="35.50" fill="#000" text-anchor="middle"><tspan>MCO</tspan><tspan dy="7.10" font-size="22.01">3</tspan><tspan dy="-7.10">/C</tspan><tspan dy="7.10" font-size="22.01">2</tspan><tspan dy="-7.10">O</tspan><tspan dy="7.10" font-size="22.01">4</tspan></text>
<text transform="translate(478.80,576.00) scale(0.940,1)" font-size="35.50" fill="#000" text-anchor="middle">1600-1900</text>
<text transform="translate(477.50,623.30) scale(0.935,1)" font-size="35.50" fill="#000" text-anchor="middle"><tspan>mAh g</tspan><tspan dy="-11.71" font-size="21.30">-1</tspan></text>
<text transform="translate(478.80,667.80) scale(0.945,1)" font-size="35.80" fill="#000" text-anchor="middle">LIB</text>
<text font-size="23.30" fill="#0f8a1c" text-anchor="middle" stroke="#0f8a1c" stroke-width="0.30"><textPath href="#pc1" startOffset="50%" textLength="114.5" lengthAdjust="spacingAndGlyphs">Composite</textPath></text>
<text font-size="23.30" fill="#c41222" text-anchor="middle" stroke="#c41222" stroke-width="0.30"><textPath href="#pc2" startOffset="50%">Structure</textPath></text>
<text font-size="23.50" fill="#10108c" text-anchor="middle" stroke="#10108c" stroke-width="0.30"><textPath href="#pc3" startOffset="50%" textLength="134.0" lengthAdjust="spacingAndGlyphs">Polymetallic</textPath></text>
<text font-size="25.00" fill="#0f8a1c" text-anchor="middle" stroke="#0f8a1c" stroke-width="0.45"><textPath href="#pc4" startOffset="50%" textLength="300.0" lengthAdjust="spacingAndGlyphs">rGO/cNTs/C/Polymers/Inorgnics</textPath></text>
<text font-size="25.00" fill="#c41222" text-anchor="middle" stroke="#c41222" stroke-width="0.45"><textPath href="#pc5" startOffset="50%" textLength="314.0" lengthAdjust="spacingAndGlyphs">Nano/Micro-nano/Porous/Hollow</textPath></text>
<text font-size="26.00" fill="#10108c" text-anchor="middle" stroke="#10108c" stroke-width="0.30"><textPath href="#pc6" startOffset="50%" textLength="172.0" lengthAdjust="spacingAndGlyphs"><tspan>M</tspan><tspan dy="5.20" font-size="18.20" font-style="italic">x</tspan><tspan dy="-5.20">N</tspan><tspan dy="5.20" font-size="18.20" font-style="italic">1-x</tspan><tspan dy="-5.20">CO</tspan><tspan dy="5.20" font-size="18.20">3</tspan><tspan dy="-5.20">/C</tspan><tspan dy="5.20" font-size="18.20">2</tspan><tspan dy="-5.20">O</tspan><tspan dy="5.20" font-size="18.20">4</tspan></textPath></text>
<polygon points="351.3,317.8 408.0,350.0 408.0,356.0 351.3,323.8" fill="url(#tlFe)"/>
<polygon points="408.0,350.0 470.0,318.0 470.0,324.0 408.0,356.0" fill="url(#trFe)"/>
<polygon points="351.3,317.8 414.0,284.5 470.0,318.0 408.0,350.0" fill="url(#ttFe)"/>
<polygon points="475.8,321.4 533.5,352.5 533.5,358.5 475.8,327.4" fill="url(#tlCu)"/>
<polygon points="533.5,352.5 587.0,322.5 587.0,328.5 533.5,358.5" fill="url(#trCu)"/>
<polygon points="475.8,321.4 527.0,291.5 587.0,322.5 533.5,352.5" fill="url(#ttCu)"/>
<polygon points="413.0,282.5 469.0,315.5 469.0,322.0 413.0,289.0" fill="url(#tlCo)"/>
<polygon points="469.0,315.5 525.0,284.0 525.0,293.5 469.0,325.0" fill="url(#trCo)"/>
<polygon points="413.0,282.5 467.0,254.0 525.0,284.0 469.0,315.5" fill="url(#ttCo)"/>
<polygon points="461.0,312.0 469.0,315.5 477.0,312.0 477.0,322.0 469.0,326.5 461.0,322.0" fill="#3450a4"/>
<polygon points="291.0,354.6 347.2,386.8 347.2,410.8 291.0,378.6" fill="url(#tlMn)"/>
<polygon points="347.2,386.8 405.0,356.5 405.0,380.5 347.2,410.8" fill="url(#trMn)"/>
<polygon points="291.0,354.6 351.0,322.0 405.0,356.5 347.2,386.8" fill="url(#ttMn)"/>
<polygon points="537.7,357.0 593.4,388.7 593.4,412.7 537.7,381.0" fill="url(#tlSn)"/>
<polygon points="593.4,388.7 650.5,358.0 650.5,381.0 593.4,411.7" fill="url(#trSn)"/>
<polygon points="537.7,357.0 590.0,327.7 650.5,358.0 593.4,388.7" fill="url(#ttSn)"/>
<polygon points="415.8,355.7 535.2,420.8 535.2,445.8 415.8,380.7" fill="url(#tlC)"/>
<polygon points="535.2,420.8 589.4,391.0 589.4,414.5 535.2,445.8" fill="url(#trC)"/>
<polygon points="415.8,355.7 469.0,327.5 589.4,391.0 535.2,420.8" fill="url(#ttC)"/>
<polygon points="353.7,392.0 411.4,422.5 411.4,442.5 353.7,412.0" fill="url(#tlNi)"/>
<polygon points="411.4,422.5 466.0,393.0 466.0,417.0 411.4,446.5" fill="url(#trNi)"/>
<polygon points="353.7,392.0 408.3,359.5 466.0,393.0 411.4,422.5" fill="url(#ttNi)"/>
<polygon points="415.6,427.7 473.4,459.0 473.4,482.0 415.6,450.7" fill="url(#tlZn)"/>
<polygon points="473.4,459.0 528.0,426.7 528.0,450.7 473.4,483.0" fill="url(#trZn)"/>
<polygon points="415.6,427.7 471.3,395.0 528.0,426.7 473.4,459.0" fill="url(#ttZn)"/>
<text transform="translate(350.90,360.60) rotate(-35.00)" font-size="29.50" fill="#000" text-anchor="middle">Mn</text>
<text transform="translate(410.10,324.00) rotate(-33.00)" font-size="28.50" fill="#000" text-anchor="middle">Fe</text>
<text transform="translate(474.90,288.50) rotate(-33.00)" font-size="29.00" fill="#000" text-anchor="middle">Co</text>
<text transform="translate(535.30,323.70) rotate(-34.00)" font-size="29.50" fill="#000" text-anchor="middle">Cu</text>
<text transform="translate(599.40,361.50) rotate(-35.00)" font-size="29.00" fill="#000" text-anchor="middle">Sn</text>
<text transform="translate(413.70,400.60) rotate(-33.00)" font-size="28.50" fill="#000" text-anchor="middle">Ni</text>
<text transform="translate(477.10,431.30) rotate(-35.00)" font-size="29.50" fill="#000" text-anchor="middle">Zn</text>
<text transform="translate(470.20,366.20) rotate(5.00)" font-size="31.00" fill="#000" text-anchor="middle"><tspan>CO</tspan><tspan dy="6.20" font-size="18.60">3</tspan><tspan dy="-16.74" font-size="18.60">2-</tspan></text>
<text transform="translate(534.60,404.60) rotate(5.00)" font-size="31.00" fill="#000" text-anchor="middle"><tspan>C</tspan><tspan dy="6.20" font-size="18.60">2</tspan><tspan dy="-6.20">O</tspan><tspan dy="6.20" font-size="18.60">4</tspan><tspan dy="-16.74" font-size="18.60">2-</tspan></text>
<path d="M477.1,379.7 L531.3,366.4" stroke="#000" stroke-width="3.2"/>
</svg>
</body></html>
